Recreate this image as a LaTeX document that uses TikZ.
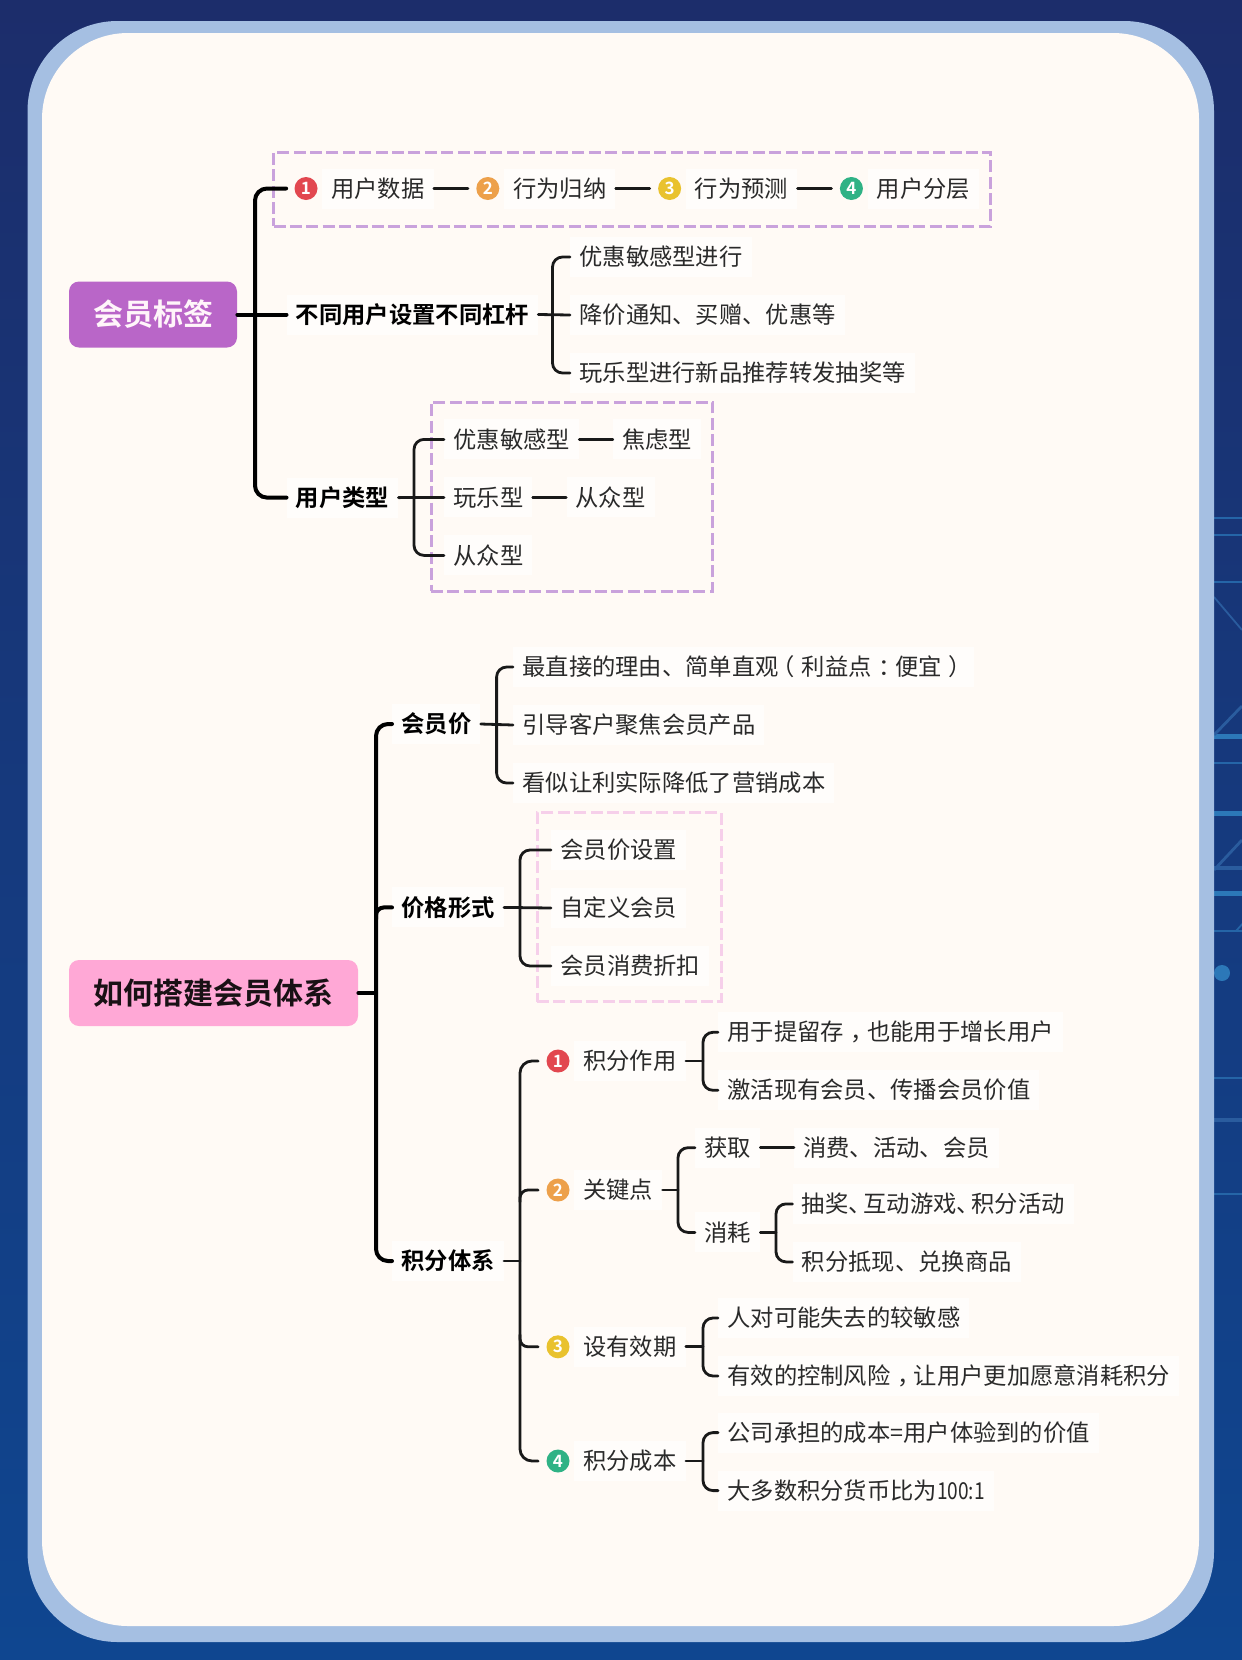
\documentclass[tikz,border=0pt]{standalone}
\usepackage{fontspec}
\setmainfont{Noto Sans CJK SC}[BoldFont={Noto Sans CJK SC Bold}]
\usetikzlibrary{
    calc,
    positioning
}
\definecolor{skytop}{HTML}{1C2D6B}
\definecolor{skymid}{HTML}{143A80}
\definecolor{skylow}{HTML}{0F4690}
\definecolor{rimblue}{HTML}{A5BFE2}
\definecolor{paper}{HTML}{FFFAF5}
\definecolor{wirelight}{HTML}{2C78B8}
\definecolor{wiredim}{HTML}{2A5C9E}
\definecolor{tagpurple}{HTML}{B966C8}
\definecolor{tagpink}{HTML}{FFA8D6}
\definecolor{dashpurple}{HTML}{C9A2DC}
\definecolor{dashpink}{HTML}{F6CFEA}
\definecolor{markred}{HTML}{E2474F}
\definecolor{markorange}{HTML}{EDA04A}
\definecolor{markyellow}{HTML}{E9C22E}
\definecolor{markgreen}{HTML}{2FB285}
\definecolor{ink}{HTML}{2A2A2A}
% punctuation set in the middle of its cell, and a narrow list mark
\newcommand{\shiftright}[1]{\hspace{.3em}\makebox[.7em][l]{#1}}
\newcommand{\shiftleft}[1]{\makebox[.7em][r]{#1}\hspace{.3em}}
\newcommand{\tightmark}{\makebox[.64em][l]{、}}

\begin{document}
\begin{tikzpicture}[
    x=0.5pt,
    y=-0.5pt,
    node distance=8.6pt and 21pt,
    every node/.style={font=\fontsize{11.65pt}{14pt}\selectfont},
    leaf/.style={
        fill=white!60!paper,
        text=ink,
        inner xsep=4.5pt,
        inner ysep=0pt,
        minimum height=20pt,
        text height=10.3pt,
        text depth=1.7pt
    },
    topic/.style={leaf,text=black,font=\fontsize{11.65pt}{14pt}\selectfont\bfseries},
    under/.style={below=of #1.south west,anchor=north west},
    badge/.style={
        circle,
        fill=#1,
        text=white,
        inner sep=0pt,
        minimum size=11.5pt,
        font=\fontsize{8.5pt}{9pt}\selectfont\bfseries
    },
    hub/.style={
        rectangle,
        rounded corners=5pt,
        minimum height=33pt,
        font=\fontsize{15pt}{18pt}\selectfont\bfseries
    },
    dashbox/.style={
        rectangle,
        draw=#1,
        line width=1.5pt,
        dash pattern=on 6pt off 2.2pt
    },
    trunk/.style={line width=2pt,draw=black,line cap=round},
    branch/.style={line width=1.4pt,draw=black!90,line cap=round}
]
\useasboundingbox (0,0) rectangle (1242,1660);

% backdrop and card
\shade[top color=skytop,middle color=skymid,bottom color=skylow] (0,0) rectangle (1242,1660);
\begin{scope}
    \clip (1214,0) rectangle (1242,1660);
    \foreach \y in {518,535,582,763,931,1078,1194}
        \draw[wirelight!70!skymid,line width=0.9pt] (1210,\y) -- (1242,\y);
    \foreach \y in {736,813,893}
        \draw[wirelight,line width=2.5pt] (1210,\y) -- (1242,\y);
    \foreach \y in {868,1120}
        \draw[wiredim,line width=1.6pt] (1210,\y) -- (1242,\y);
    \draw[wiredim,line width=0.9pt] (1214,597) -- (1242,630);
    \draw[wiredim,line width=1.4pt] (1214,735) -- (1242,706);
    \draw[wiredim,line width=1.4pt] (1214,870) -- (1242,840);
    \draw[wirelight!70!skymid,line width=0.9pt] (1236,931) -- (1245,921);
    \fill[wirelight] (1222,973) circle (4pt);
\end{scope}
\fill[rimblue,rounded corners=45pt] (27.5,21) rectangle (1214,1642);
\fill[paper,rounded corners=43pt] (42,33) rectangle (1199,1626);

% dashed frames
\node[dashbox=dashpurple,minimum width=358.5pt,minimum height=37pt] (boxSteps) at (632,189) {};
\node[dashbox=dashpurple,minimum width=140.8pt,minimum height=94.5pt] (boxType) at (571.8,496.5) {};
\node[dashbox=dashpink,minimum width=92pt,minimum height=94.8pt] (boxForm) at (629,907) {};

% upper tree
\node[hub,fill=tagpurple,text=white!88!tagpink,minimum width=84pt] (tagRoot) at (153,314.5) {会员标签};
\coordinate (busTag) at (255,314.5);
\coordinate (busLever) at (552.5,314.5);
\coordinate (busType) at (414,497.6);

\node[badge=markred] (stepOne) at (306,188.5) {1};
\node[leaf,right=2pt of stepOne] (stepData) {用户数据};
\node[badge=markorange,right=of stepData] (stepTwo) {2};
\node[leaf,right=2pt of stepTwo] (stepHabit) {行为归纳};
\node[badge=markyellow,right=of stepHabit] (stepThree) {3};
\node[leaf,right=2pt of stepThree] (stepGuess) {行为预测};
\node[badge=markgreen,right=of stepGuess] (stepFour) {4};
\node[leaf,right=2pt of stepFour] (stepLayer) {用户分层};

\node[topic,anchor=west] (tagLever) at (286.5,314.5) {不同用户设置不同杠杆};
\node[topic,anchor=west] (tagType) at (286.5,497.6) {用户类型};

\node[leaf,anchor=west] (leverA) at (570,257) {优惠敏感型进行};
\node[leaf,under=leverA] (leverB) {降价通知、买赠、优惠等};
\node[leaf,under=leverB] (leverC) {玩乐型进行新品推荐转发抽奖等};

\node[leaf,anchor=west] (typeA) at (444,439.4) {优惠敏感型};
\node[leaf,under=typeA] (typeB) {玩乐型};
\node[leaf,under=typeB] (typeC) {从众型};
\node[leaf,right=16.75pt of typeA] (typeAnext) {焦虑型};
\node[leaf,right=16.75pt of typeB] (typeBnext) {从众型};

\draw[trunk,rounded corners=6pt,shorten <=4pt] (stepOne.west) -- (stepOne.west -| busTag) -- (tagType.west -| busTag) -- (tagType.west);
\draw[trunk] (tagRoot.east) -- (tagLever.west);
\draw[branch,shorten >=4pt] (stepData) -- (stepTwo);
\draw[branch,shorten >=4pt] (stepHabit) -- (stepThree);
\draw[branch,shorten >=4pt] (stepGuess) -- (stepFour);
\draw[branch,rounded corners=5pt] (leverA.west) -- (leverA.west -| busLever) -- (leverC.west -| busLever) -- (leverC.west);
\draw[branch] (tagLever.east) -- (leverB.west);
\draw[branch,rounded corners=5pt] (typeA.west) -- (typeA.west -| busType) -- (typeC.west -| busType) -- (typeC.west);
\draw[branch] (tagType.east) -- (typeB.west);
\draw[branch] (typeA) -- (typeAnext);
\draw[branch] (typeB) -- (typeBnext);

% lower tree
\node[hub,fill=tagpink,text=black!90!tagpink,minimum width=144.5pt] (hubRoot) at (213.5,993) {如何搭建会员体系};
\coordinate (busHub) at (376,993);
\coordinate (busPrice) at (496.6,724);
\coordinate (busForm) at (520,907.4);
\coordinate (busCredit) at (520,1261);

\node[topic,anchor=west] (hubPrice) at (392,724) {会员价};
\node[topic,anchor=west] (hubForm) at (392,907.4) {价格形式};
\node[topic,anchor=west] (hubCredit) at (392,1261) {积分体系};

\node[leaf,anchor=west] (priceA) at (513,667) {最直接的理由、简单直观\shiftleft{（}利益点\shiftright{：}便宜\shiftright{）}};
\node[leaf,under=priceA] (priceB) {引导客户聚焦会员产品};
\node[leaf,under=priceB] (priceC) {看似让利实际降低了营销成本};

\node[leaf,anchor=west] (formA) at (551,850) {会员价设置};
\node[leaf,under=formA] (formB) {自定义会员};
\node[leaf,under=formB] (formC) {会员消费折扣};

\node[badge=markred] (creditOne) at (558,1061) {1};
\node[leaf,right=2pt of creditOne] (useText) {积分作用};
\node[badge=markorange] (creditTwo) at (558,1190) {2};
\node[leaf,right=2pt of creditTwo] (keyText) {关键点};
\node[badge=markyellow] (creditThree) at (558,1346.8) {3};
\node[leaf,right=2pt of creditThree] (termText) {设有效期};
\node[badge=markgreen] (creditFour) at (558,1461) {4};
\node[leaf,right=2pt of creditFour] (costText) {积分成本};

\node[leaf,anchor=west] (useA) at (718,1032.3) {用于提留存\shiftright{，}也能用于增长用户};
\node[leaf,under=useA] (useB) {激活现有会员、传播会员价值};

\node[leaf,anchor=west] (gainText) at (695,1147.7) {获取};
\node[leaf,right=16.75pt of gainText] (gainNext) {消费、活动、会员};
\node[leaf,anchor=west] (spendText) at (695,1232.4) {消耗};
\node[leaf,anchor=west] (spendA) at (792.5,1203.9) {抽奖\tightmark 互动游戏\tightmark 积分活动};
\node[leaf,under=spendA] (spendB) {积分抵现、兑换商品};

\node[leaf,anchor=west] (termA) at (718,1318) {人对可能失去的较敏感};
\node[leaf,under=termA] (termB) {有效的控制风险\shiftright{，}让用户更加愿意消耗积分};

\node[leaf,anchor=west] (costA) at (718,1432.6) {公司承担的成本=用户体验到的价值};
\node[leaf,under=costA] (costB) {大多数积分货币比为\scalebox{.82}[1]{100:1}};

\draw[trunk] (hubRoot.east) -- (busHub);
\draw[trunk,rounded corners=6pt] (hubPrice.west) -- (hubPrice.west -| busHub) -- (hubCredit.west -| busHub) -- (hubCredit.west);
\draw[trunk,rounded corners=4pt] (hubForm.west) -| ($(busHub |- hubForm.west)+(0,12)$);
\draw[branch,rounded corners=5pt] (priceA.west) -- (priceA.west -| busPrice) -- (priceC.west -| busPrice) -- (priceC.west);
\draw[branch] (hubPrice.east) -- (priceB.west);
\draw[branch,rounded corners=5pt] (formA.west) -- (formA.west -| busForm) -- (formC.west -| busForm) -- (formC.west);
\draw[branch] (hubForm.east) -- (formB.west);

\draw[branch,rounded corners=6pt,shorten <=4pt,shorten >=4pt] (creditOne.west) -- (creditOne.west -| busCredit) -- (creditFour.west -| busCredit) -- (creditFour.west);
\draw[branch] (hubCredit.east) -- (busCredit);
\draw[branch,rounded corners=4pt,shorten <=4pt] (creditTwo.west) -| ($(busCredit |- creditTwo.west)+(0,12)$);
\draw[branch,rounded corners=4pt,shorten <=4pt] (creditThree.west) -| ($(busCredit |- creditThree.west)+(0,-12)$);

\draw[branch,rounded corners=5pt] (useA.west) -- ++(-15,0) |- (useB.west);
\draw[branch] (useText.east) -- (useText.east -| {$(useA.west)+(-15,0)$});
\draw[branch,rounded corners=5pt] (gainText.west) -- ++(-17,0) |- (spendText.west);
\draw[branch] (keyText.east) -- (keyText.east -| {$(gainText.west)+(-17,0)$});
\draw[branch] (gainText) -- (gainNext);
\draw[branch,rounded corners=5pt] (spendA.west) -- ++(-16.5,0) |- (spendB.west);
\draw[branch] (spendText.east) -- (spendText.east -| {$(spendA.west)+(-16.5,0)$});
\draw[branch,rounded corners=5pt] (termA.west) -- ++(-15,0) |- (termB.west);
\draw[branch] (termText.east) -- (termText.east -| {$(termA.west)+(-15,0)$});
\draw[branch,rounded corners=5pt] (costA.west) -- ++(-15,0) |- (costB.west);
\draw[branch] (costText.east) -- (costText.east -| {$(costA.west)+(-15,0)$});
\end{tikzpicture}
\end{document}
